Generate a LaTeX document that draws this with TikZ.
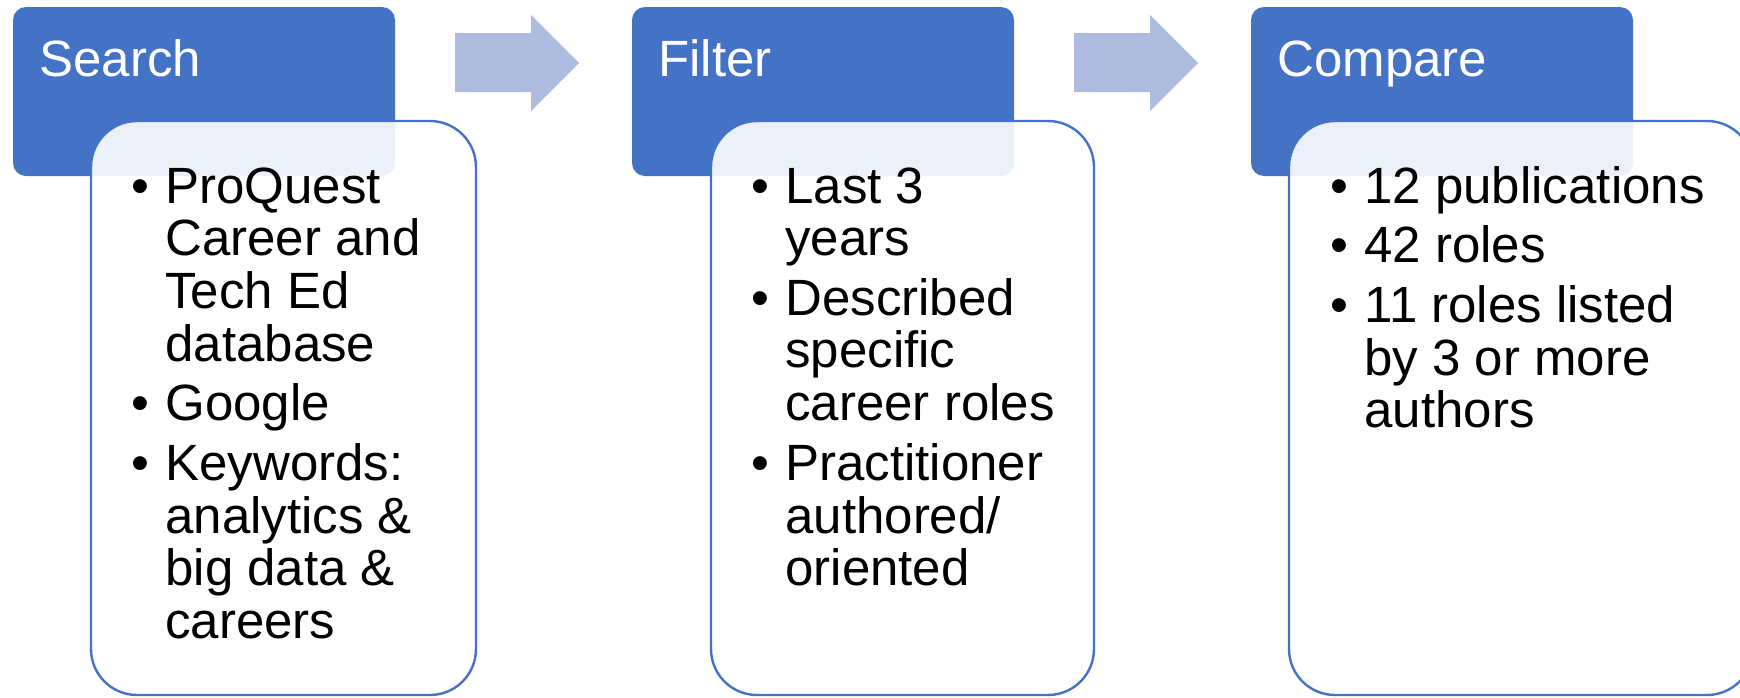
\documentclass[tikz,border=0pt]{standalone}
\usepackage{fontspec}
\setmainfont{Liberation Sans}
\definecolor{stepblue}{HTML}{4472C4}
\definecolor{arrowblue}{HTML}{AEBCDF}
\tikzset{
  hdr/.style={fill=stepblue, rounded corners=6.5pt},
  bodybox/.style={draw=stepblue, line width=1.2pt, fill=white, fill opacity=0.9, rounded corners=23pt},
  hdrtext/.style={anchor=base west, inner sep=0pt, text=white, font=\fontsize{25.5pt}{30pt}\selectfont},
  bodytext/.style={anchor=base west, inner sep=0pt, font=\fontsize{25.5pt}{26.25pt}\selectfont},
  flow/.style={fill=arrowblue}
}
\newcommand{\bl}{\llap{•\hspace{8pt}}}

\begin{document}
\begin{tikzpicture}[x=0.5pt, y=-0.5pt]
    \useasboundingbox (0,0) rectangle (1740,697);

    % Search
    \fill[hdr] (13,7) rectangle (395,176);
    \node[hdrtext] (search) at (39,76.5) {Search};
    \draw[bodybox] (91,121) rectangle (476,695);
    \node[bodytext] (searchlist) at (165,203) {\begin{tabular}[t]{@{}l@{}}
        \bl ProQuest\\ Career and\\ Tech Ed\\ database\\[3.5pt]
        \bl Google\\[3.5pt]
        \bl Keywords:\\ analytics \&\\ big data \&\\ careers
    \end{tabular}};

    % Pfeil 1
    \fill[flow] (455,33) -- (531,33) -- (531,15) -- (579,63) -- (531,111) -- (531,92) -- (455,92) -- cycle;

    % Filter
    \fill[hdr] (632,7) rectangle (1014,176);
    \node[hdrtext] (filter) at (658,76.5) {Filter};
    \draw[bodybox] (711,121) rectangle (1094,695);
    \node[bodytext] (filterlist) at (785,203) {\begin{tabular}[t]{@{}l@{}}
        \bl Last 3\\ years\\[3.5pt]
        \bl Described\\ specific\\ career roles\\[3.5pt]
        \bl Practitioner\\ authored/\\ oriented
    \end{tabular}};

    % Pfeil 2
    \fill[flow] (1074,33) -- (1150,33) -- (1150,15) -- (1198,63) -- (1150,111) -- (1150,92) -- (1074,92) -- cycle;

    % Compare
    \fill[hdr] (1251,7) rectangle (1633,176);
    \node[hdrtext] (compare) at (1277,76.5) {Compare};
    \draw[bodybox] (1289,121) rectangle (1753,695);
    \node[bodytext] (comparelist) at (1364,203) {\begin{tabular}[t]{@{}l@{}}
        \bl 12 publications\\[3.5pt]
        \bl 42 roles\\[3.5pt]
        \bl 11 roles listed\\ by 3 or more\\ authors
    \end{tabular}};
\end{tikzpicture}
\end{document}
